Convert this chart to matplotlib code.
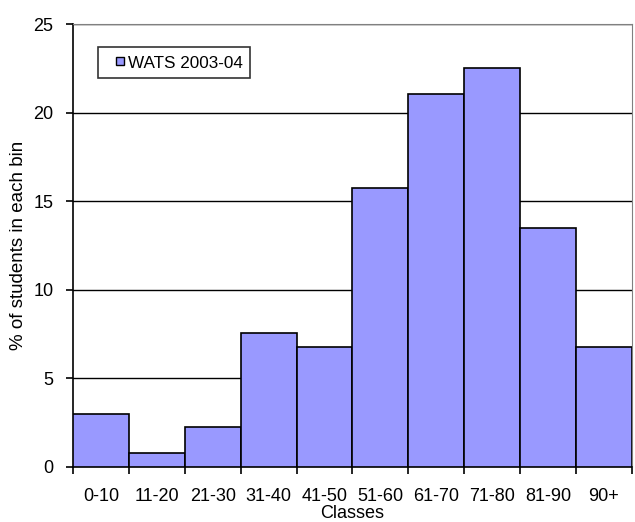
import matplotlib
matplotlib.use("Agg")
import matplotlib.pyplot as plt
from matplotlib.lines import Line2D

classes = ["0-10", "11-20", "21-30", "31-40", "41-50", "51-60", "61-70", "71-80", "81-90", "90+"]
percent = [3.0, 0.77, 2.26, 7.57, 6.78, 15.75, 21.03, 22.53, 13.48, 6.78]
series_name = "WATS 2003-04"
bar_color = "#9999FF"

plt.rcParams['font.family'] = ['Liberation Sans', 'DejaVu Sans']

fig = plt.figure(figsize=(6.35, 5.22), dpi=100)
ax = fig.add_axes([0.115, 0.106, 0.88, 0.848])

pos = list(range(len(classes)))
ax.bar(pos, percent, width=1.0, color=bar_color, edgecolor="black", linewidth=1.2, zorder=3)

ax.set_xlim(-0.5, len(classes) - 0.5)
ax.set_ylim(0, 25)
ax.set_yticks([0, 5, 10, 15, 20, 25])
ax.yaxis.grid(True, color="black", linewidth=1.0, zorder=0)

# ticks on bin edges, labels centred on bins
ax.set_xticks([p + 0.5 for p in [-1] + pos])
ax.set_xticklabels([])
ax.set_xticks(pos, minor=True)
ax.set_xticklabels(classes, minor=True)
ax.tick_params(axis="x", which="minor", length=0, pad=15, labelsize=13)
ax.tick_params(axis="x", which="major", direction="out", length=5, width=1.2)
ax.tick_params(axis="y", direction="out", length=5, width=1.2, labelsize=13, pad=9)

for side in ["top", "right"]:
    ax.spines[side].set_color("#808080")
for side in ["left", "bottom"]:
    ax.spines[side].set_linewidth(1.2)

ax.set_xlabel("Classes", fontsize=13, labelpad=0)
ax.set_ylabel("% of students in each bin", fontsize=13.5, labelpad=5)

handle = Line2D([], [], marker="s", linestyle="none", markersize=6,
                markerfacecolor=bar_color, markeredgecolor="black", markeredgewidth=1.0)
leg = ax.legend(handles=[handle], labels=[series_name], loc="upper left",
                bbox_to_anchor=(0.045, 0.948), borderaxespad=0, fontsize=12.3,
                handlelength=1.8, handleheight=1.2, handletextpad=-0.45, borderpad=0.4,
                frameon=True, fancybox=False, edgecolor="black")
leg.get_frame().set_linewidth(1.2)

fig.savefig("out.png", dpi=100)
